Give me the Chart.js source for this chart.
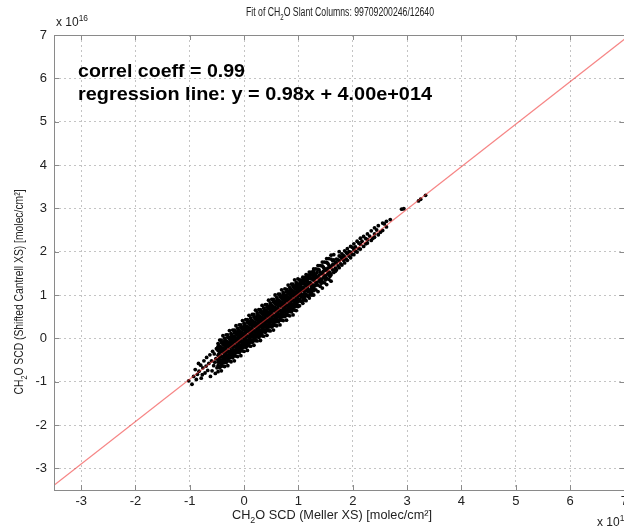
<!DOCTYPE html>
<html>
<head>
<meta charset="utf-8">
<script src="https://cdn.jsdelivr.net/npm/chart.js@4.4.0/dist/chart.umd.min.js"></script>
<style>
  html, body { margin: 0; padding: 0; background: #fff; }
  #wrap { width: 624px; height: 530px; overflow: hidden; position: relative; }
</style>
</head>
<body>
<div id="wrap"><canvas id="fit-chart" width="632" height="530"></canvas></div>
<script>
'use strict';

// ─── DATA (units of 1e16 molec/cm²) ──────────────────────────────────────────
// each row: [Meller SCD, Cantrell SCD values at that x...]

const tailLow = [
  [-1.02, -0.98], [-0.96, -1.06], [-0.93, -0.88], [-0.90, -0.72], [-0.88, -0.95],
  [-0.86, -0.83], [-0.84, -0.58], [-0.83, -0.76], [-0.80, -0.62], [-0.79, -0.92],
  [-0.77, -0.84], [-0.76, -0.68], [-0.74, -0.52], [-0.72, -0.80], [-0.70, -0.64],
  [-0.69, -0.44], [-0.67, -0.74], [-0.65, -0.58], [-0.63, -0.38], [-0.62, -0.88],
  [-0.60, -0.52], [-0.59, -0.75], [-0.58, -0.30], [-0.56, -0.63], [-0.55, -0.36],
  [-0.54, -0.55], [-0.53, -0.81], [-0.52, -0.47], [-0.51, -0.24], [-0.50, -0.68],
];

const coreLow = [
  [-0.48, -0.12, -0.50, -0.28, -0.77, -0.39, -0.63, -0.19, -0.55],
  [-0.45, -0.68, -0.31, -0.43, -0.04, -0.56, -0.21, -0.49, -0.38],
  [-0.42, -0.25, -0.75, -0.10, -0.42, -0.30, -0.61, -0.04, -0.51],
  [-0.39, -0.45, -0.13, -0.64, -0.33, 0.06, -0.51, -0.23, -0.56],
  [-0.36, 0.00, -0.38, -0.16, -0.65, -0.27, -0.51, -0.07, -0.43],
  [-0.33, -0.56, -0.19, -0.31, 0.08, -0.44, -0.09, -0.37, -0.26],
  [-0.30, -0.13, -0.63, 0.02, -0.30, -0.18, -0.49, 0.08, -0.39],
  [-0.27, -0.33, -0.01, -0.52, -0.21, 0.18, -0.39, -0.11, -0.44],
  [-0.24, 0.11, -0.27, -0.05, -0.54, -0.16, -0.40, 0.04, -0.32],
  [-0.21, -0.45, -0.08, -0.20, 0.19, -0.33, 0.02, -0.26, -0.15],
  [-0.18, -0.02, -0.52, 0.13, -0.19, -0.07, -0.38, 0.19, -0.28],
  [-0.15, -0.22, 0.10, -0.41, -0.10, 0.29, -0.28, 0.00, -0.33],
  [-0.12, 0.23, -0.15, 0.07, -0.42, -0.04, -0.28, 0.16, -0.20],
  [-0.09, -0.33, 0.04, -0.08, 0.31, -0.21, 0.14, -0.14, -0.03],
  [-0.06, 0.10, -0.40, 0.25, -0.07, 0.05, -0.26, 0.31, -0.16],
  [-0.03, -0.10, 0.22, -0.29, 0.02, 0.41, -0.16, 0.12, -0.21],
  [0.00, 0.35, -0.03, 0.19, -0.30, 0.08, -0.16, 0.28, -0.08],
  [0.03, -0.21, 0.16, 0.04, 0.43, -0.09, 0.26, -0.02, 0.09],
  [0.06, 0.22, -0.28, 0.37, 0.05, 0.17, -0.14, 0.43, -0.04],
  [0.09, 0.02, 0.34, -0.17, 0.14, 0.53, -0.04, 0.24, -0.09],
  [0.12, 0.47, 0.09, 0.31, -0.18, 0.20, -0.04, 0.40, 0.04],
  [0.15, -0.09, 0.28, 0.16, 0.55, 0.03, 0.38, 0.10, 0.21],
  [0.18, 0.34, -0.16, 0.49, 0.17, 0.29, -0.02, 0.55, 0.08],
  [0.21, 0.14, 0.46, -0.05, 0.26, 0.65, 0.08, 0.36, 0.03],
  [0.24, 0.59, 0.21, 0.43, -0.06, 0.32, 0.08, 0.52, 0.16],
  [0.27, 0.02, 0.39, 0.27, 0.66, 0.14, 0.49, 0.21, 0.32],
];

const coreMid = [
  [0.30, 0.45, -0.05, 0.60, 0.28, 0.40, 0.09, 0.66, 0.19],
  [0.33, 0.25, 0.57, 0.06, 0.37, 0.76, 0.19, 0.47, 0.14],
  [0.36, 0.70, 0.32, 0.54, 0.05, 0.43, 0.19, 0.63, 0.27],
  [0.39, 0.14, 0.51, 0.39, 0.78, 0.26, 0.61, 0.33, 0.44],
  [0.42, 0.57, 0.07, 0.72, 0.40, 0.52, 0.21, 0.78, 0.31],
  [0.45, 0.37, 0.69, 0.18, 0.49, 0.88, 0.31, 0.59, 0.26],
  [0.48, 0.82, 0.44, 0.66, 0.17, 0.55, 0.31, 0.75, 0.39],
  [0.51, 0.26, 0.63, 0.51, 0.90, 0.38, 0.73, 0.45, 0.56],
  [0.54, 0.69, 0.19, 0.84, 0.52, 0.64, 0.33, 0.90, 0.43],
  [0.57, 0.49, 0.81, 0.30, 0.61, 1.00, 0.43, 0.71, 0.38],
  [0.60, 0.94, 0.56, 0.78, 0.29, 0.67, 0.43, 0.87, 0.51],
  [0.63, 0.38, 0.75, 0.63, 1.02, 0.50, 0.85, 0.57, 0.68],
  [0.66, 0.81, 0.31, 0.96, 0.64, 0.76, 0.45, 1.02, 0.55],
  [0.69, 0.61, 0.93, 0.42, 0.73, 1.12, 0.55, 0.83, 0.50],
  [0.72, 1.06, 0.68, 0.90, 0.41, 0.79, 0.55, 0.99, 0.63],
  [0.75, 0.50, 0.87, 0.75, 1.14, 0.62, 0.97, 0.69, 0.80],
  [0.78, 0.92, 0.42, 1.07, 0.75, 0.87, 0.56, 1.13, 0.66],
  [0.81, 0.72, 1.04, 0.53, 0.84, 1.23, 0.66, 0.94, 0.61],
  [0.84, 1.17, 0.79, 1.01, 0.52, 0.90, 0.66, 1.10, 0.74],
  [0.87, 0.61, 0.98, 0.86, 1.25, 0.73, 1.08, 0.80, 0.91],
  [0.90, 1.04, 0.54, 1.19, 0.87, 0.99, 0.68, 1.25, 0.78],
  [0.93, 0.84, 1.16, 0.65, 0.96, 1.35, 0.78, 1.06, 0.73],
  [0.96, 1.29, 0.91, 1.13, 0.64, 1.02, 0.78, 1.22, 0.86],
  [0.99, 0.73, 1.10, 0.98, 1.37, 0.85, 1.20, 0.92, 1.03],
];

// the solid black centre of the cloud
const coreFill = [
  [-0.465, -0.25, -0.53, -0.36, -0.64, -0.17],
  [-0.435, -0.54, -0.19, -0.40, -0.28, -0.65],
  [-0.405, -0.27, -0.55, -0.10, -0.42, -0.22],
  [-0.375, -0.56, -0.30, -0.15, -0.46, -0.25],
  [-0.345, -0.13, -0.41, -0.24, -0.52, -0.05],
  [-0.315, -0.42, -0.07, -0.28, -0.16, -0.53],
  [-0.285, -0.15, -0.43, 0.02, -0.30, -0.10],
  [-0.255, -0.44, -0.18, -0.03, -0.34, -0.13],
  [-0.225, -0.01, -0.29, -0.12, -0.40, 0.07],
  [-0.195, -0.30, 0.05, -0.16, -0.04, -0.41],
  [-0.165, -0.03, -0.31, 0.14, -0.18, 0.02],
  [-0.135, -0.32, -0.06, 0.09, -0.22, -0.01],
  [-0.105, 0.11, -0.17, 0.00, -0.28, 0.19],
  [-0.075, -0.18, 0.17, -0.04, 0.08, -0.29],
  [-0.045, 0.09, -0.19, 0.26, -0.06, 0.14],
  [-0.015, -0.20, 0.06, 0.21, -0.10, 0.11],
  [0.015, 0.22, -0.06, 0.11, -0.17, 0.30],
  [0.045, -0.07, 0.28, 0.07, 0.19, -0.18],
  [0.075, 0.20, -0.08, 0.37, 0.05, 0.25],
  [0.105, -0.09, 0.17, 0.32, 0.01, 0.22],
  [0.135, 0.34, 0.06, 0.23, -0.05, 0.42],
  [0.165, 0.05, 0.40, 0.19, 0.31, -0.06],
  [0.195, 0.32, 0.04, 0.49, 0.17, 0.37],
  [0.225, 0.03, 0.29, 0.44, 0.13, 0.34],
  [0.255, 0.46, 0.18, 0.35, 0.07, 0.54],
  [0.285, 0.17, 0.52, 0.31, 0.43, 0.06],
  [0.315, 0.44, 0.16, 0.61, 0.29, 0.49],
  [0.345, 0.15, 0.41, 0.56, 0.25, 0.46],
  [0.375, 0.58, 0.30, 0.47, 0.19, 0.66],
  [0.405, 0.29, 0.64, 0.43, 0.55, 0.18],
  [0.435, 0.56, 0.28, 0.73, 0.41, 0.61],
  [0.465, 0.27, 0.53, 0.68, 0.37, 0.58],
  [0.495, 0.70, 0.42, 0.59, 0.31, 0.78],
  [0.525, 0.40, 0.75, 0.54, 0.66, 0.29],
  [0.555, 0.67, 0.39, 0.84, 0.52, 0.72],
  [0.585, 0.38, 0.64, 0.79, 0.48, 0.69],
  [0.615, 0.81, 0.53, 0.70, 0.42, 0.89],
  [0.645, 0.52, 0.87, 0.66, 0.78, 0.41],
  [0.675, 0.79, 0.51, 0.96, 0.64, 0.84],
  [0.705, 0.50, 0.76, 0.91, 0.60, 0.81],
  [0.735, 0.93, 0.65, 0.82, 0.54, 1.01],
  [0.765, 0.64, 0.99, 0.78, 0.90, 0.53],
  [0.795, 0.91, 0.63, 1.08, 0.76, 0.96],
  [0.825, 0.62, 0.88, 1.03, 0.72, 0.93],
  [0.855, 1.05, 0.77, 0.94, 0.66, 1.13],
  [0.885, 0.76, 1.11, 0.90, 1.02, 0.65],
  [0.915, 1.03, 0.75, 1.20, 0.88, 1.08],
  [0.945, 0.74, 1.00, 1.15, 0.84, 1.05],
  [0.975, 1.17, 0.89, 1.06, 0.78, 1.25],
  [1.005, 0.87, 1.22, 1.01, 1.13, 0.76],
  [1.035, 1.14, 0.86, 1.31, 0.99, 1.19],
  [1.065, 0.85, 1.11, 1.26, 0.95, 1.16],
  [1.095, 1.28, 1.00, 1.17, 0.89, 1.36],
  [1.125, 0.99, 1.34, 1.13, 1.25, 0.88],
  [1.155, 1.26, 0.98, 1.43, 1.11, 1.31],
  [1.185, 0.97, 1.23, 1.38, 1.07, 1.28],
  [1.215, 1.40, 1.12, 1.29, 1.01, 1.48],
  [1.245, 1.11, 1.46, 1.25, 1.37, 1.00],
  [1.275, 1.38, 1.10, 1.55, 1.23, 1.43],
];

const coreHigh = [
  [1.02, 1.26, 0.90, 1.09, 0.75, 1.35],
  [1.05, 0.86, 1.19, 1.03, 1.34, 0.97],
  [1.08, 1.32, 0.96, 1.15, 0.81, 1.41],
  [1.11, 0.92, 1.25, 1.09, 1.40, 1.03],
  [1.14, 1.38, 1.02, 1.21, 0.87, 1.47],
  [1.17, 0.98, 1.31, 1.15, 1.46, 1.09],
  [1.20, 1.44, 1.08, 1.27, 0.93, 1.53],
  [1.24, 1.05, 1.38, 1.22, 1.53, 1.16],
  [1.28, 1.51, 1.15, 1.34, 1.00, 1.60],
  [1.32, 1.12, 1.45, 1.29, 1.60, 1.23],
  [1.36, 1.59, 1.23, 1.42, 1.08, 1.68],
  [1.40, 1.20, 1.53, 1.37, 1.68, 1.31],
  [1.44, 1.67, 1.31, 1.50, 1.16, 1.76],
  [1.48, 1.28, 1.61, 1.45, 1.76, 1.39],
  [1.52, 1.75, 1.39, 1.58, 1.24, 1.84],
  [1.56, 1.36, 1.69, 1.53, 1.84, 1.47],
  [1.60, 1.83, 1.47, 1.66, 1.32, 1.92],
];

const bandUpper = [
  [1.65, 1.81, 1.52, 1.70, 1.93],
  [1.70, 1.58, 1.83, 1.74],
  [1.75, 1.90, 1.63, 1.79, 2.00],
  [1.80, 1.69, 1.95, 1.84],
  [1.85, 2.02, 1.74, 1.88],
  [1.90, 1.80, 2.07, 1.95],
  [1.96, 2.12, 1.86, 1.99],
  [2.02, 1.93, 2.18, 2.05],
  [2.08, 2.24, 1.99],
  [2.14, 2.06, 2.31, 2.17],
  [2.20, 2.35, 2.12],
  [2.27, 2.20, 2.41, 2.28],
  [2.34, 2.48, 2.26],
  [2.40, 2.33, 2.55, 2.41],
  [2.47, 2.60, 2.39],
  [2.55, 2.49, 2.66],
  [2.62, 2.70, 2.57],
  [2.69, 2.74],
];

// scattered points between the rows of the upper band
const bandFill = [
  [1.30, 1.38, 1.21, 1.47],
  [1.34, 1.29, 1.52, 1.40],
  [1.38, 1.46, 1.33, 1.58],
  [1.42, 1.36, 1.49, 1.27],
  [1.46, 1.55, 1.40, 1.64],
  [1.50, 1.44, 1.57, 1.35],
  [1.54, 1.62, 1.49, 1.73],
  [1.58, 1.52, 1.64, 1.43],
  [1.63, 1.70, 1.58, 1.79],
  [1.68, 1.62, 1.75, 1.55],
  [1.73, 1.81, 1.67],
  [1.78, 1.72, 1.88],
  [1.83, 1.91, 1.80],
  [1.88, 1.83, 1.98],
  [1.93, 2.00, 1.90],
  [1.99, 1.94, 2.10],
  [2.05, 2.11, 2.01],
  [2.11, 2.07, 2.20],
  [2.17, 2.24],
  [2.24, 2.18, 2.30],
  [2.31, 2.36],
  [2.37, 2.31],
  [2.44, 2.50],
  [2.51, 2.45],
  [2.58, 2.64],
];

const farPoints = [
  [2.90, 2.98], [2.94, 2.99], [3.21, 3.17], [3.25, 3.21], [3.34, 3.30],
];

// regression line as printed on the chart
const fitSlope     = 0.98;
const fitIntercept = 0.04;          // 4.00e+014 in units of 1e16
const fitX         = [-3.5, 7];

const tickValues = [-3, -2, -1, 0, 1, 2, 3, 4, 5, 6, 7];

// ─── BUILD ───────────────────────────────────────────────────────────────────

const rowsToPoints = rows => rows.flatMap(([x, ...ys]) => ys.map(y => ({ x, y })));

const scatterData = [
  ...rowsToPoints(tailLow),
  ...rowsToPoints(coreLow),
  ...rowsToPoints(coreMid),
  ...rowsToPoints(coreFill),
  ...rowsToPoints(coreHigh),
  ...rowsToPoints(bandUpper),
  ...rowsToPoints(bandFill),
  ...rowsToPoints(farPoints),
];

const fitData = fitX.map(x => ({ x, y: fitSlope * x + fitIntercept }));

const FONT = '"Liberation Sans", Arial, Helvetica, sans-serif';

// draws text with subscript/superscript parts, optionally squeezed to a width
function drawRich(ctx, parts, x, y, size, opts = {}) {
  const { align = 'left', width = null, bold = false } = opts;
  const weight = bold ? 'bold ' : '';
  const segs = parts.map(p => {
    const s = p.sub || p.sup ? size * 0.7 : size;
    ctx.font = `${weight}${s}px ${FONT}`;
    return { ...p, s, w: ctx.measureText(p.t).width };
  });
  const total = segs.reduce((a, s) => a + s.w, 0);
  const k = width ? width / total : 1;
  const realW = total * k;
  let cx = align === 'center' ? x - realW / 2 : align === 'right' ? x - realW : x;
  ctx.save();
  ctx.textBaseline = 'alphabetic';
  ctx.textAlign = 'left';
  segs.forEach(s => {
    ctx.font = `${weight}${s.s}px ${FONT}`;
    const dy = s.sub ? size * 0.3 : s.sup ? -size * 0.45 : 0;
    ctx.save();
    ctx.translate(cx, y + dy);
    ctx.scale(k, 1);
    ctx.fillText(s.t, 0, 0);
    ctx.restore();
    cx += s.w * k;
  });
  ctx.restore();
}

const matlabDecor = {
  id: 'matlabDecor',
  afterDraw(chart) {
    const { ctx, chartArea: a, scales } = chart;
    ctx.save();

    // axes box + inward ticks
    ctx.strokeStyle = '#8a8a8a';
    ctx.lineWidth = 1;
    ctx.strokeRect(Math.round(a.left) + 0.5, Math.round(a.top) + 0.5,
                   Math.round(a.right - a.left), Math.round(a.bottom - a.top));
    ctx.beginPath();
    tickValues.forEach(v => {
      const px = Math.round(scales.x.getPixelForValue(v)) + 0.5;
      ctx.moveTo(px, a.bottom); ctx.lineTo(px, a.bottom - 5);
      ctx.moveTo(px, a.top);    ctx.lineTo(px, a.top + 5);
      const py = Math.round(scales.y.getPixelForValue(v)) + 0.5;
      ctx.moveTo(a.left, py);   ctx.lineTo(a.left + 5, py);
      ctx.moveTo(a.right, py);  ctx.lineTo(a.right - 5, py);
    });
    ctx.stroke();

    ctx.fillStyle = '#222';

    // title
    drawRich(ctx, [{ t: 'Fit of CH' }, { t: '2', sub: true }, { t: 'O Slant Columns: 99709200246/12640' }],
             340, 16, 12, { align: 'center', width: 188 });

    // exponent labels
    drawRich(ctx, [{ t: 'x 10' }, { t: '16', sup: true }], 56, 26, 12);
    drawRich(ctx, [{ t: 'x 10' }, { t: '16', sup: true }], 597, 526, 12);

    // x axis label
    drawRich(ctx, [{ t: 'CH' }, { t: '2', sub: true }, { t: 'O SCD (Meller XS) [molec/cm\u00b2]' }],
             332, 519, 12, { align: 'center', width: 200 });

    // y axis label
    ctx.save();
    ctx.translate(23, 292);
    ctx.rotate(-Math.PI / 2);
    drawRich(ctx, [{ t: 'CH' }, { t: '2', sub: true }, { t: 'O SCD (Shifted Cantrell XS) [molec/cm\u00b2]' }],
             0, 0, 12, { align: 'center', width: 205 });
    ctx.restore();

    // annotation
    ctx.fillStyle = '#000';
    drawRich(ctx, [{ t: 'correl coeff = 0.99' }], 78, 77, 18, { bold: true, width: 167 });
    drawRich(ctx, [{ t: 'regression line: y = 0.98x + 4.00e+014' }], 78, 100, 18, { bold: true, width: 354 });

    ctx.restore();
  },
};

// ─── CHART ───────────────────────────────────────────────────────────────────

new Chart(document.getElementById('fit-chart'), {
  type: 'scatter',
  data: {
    datasets: [
      {
        type: 'line',
        label: 'regression',
        data: fitData,
        borderColor: 'rgba(240,50,50,0.6)',
        borderWidth: 1.2,
        pointRadius: 0,
        fill: false,
        tension: 0,
        order: 0,
      },
      {
        label: 'SCD',
        data: scatterData,
        backgroundColor: '#000',
        borderWidth: 0,
        pointRadius: 1.9,
        order: 1,
      },
    ],
  },
  options: {
    responsive: false,
    animation: false,
    events: [],
    layout: { padding: { left: 0, right: 5.5, top: 35, bottom: 0 } },
    plugins: {
      legend: { display: false },
      tooltip: { enabled: false },
    },
    scales: {
      x: {
        type: 'linear',
        min: -3.5,
        max: 7,
        afterFit: s => { s.height = 40; },
        grid:   { color: '#c4c4c4', drawTicks: false },
        border: { display: false, dash: [2, 3] },
        ticks:  {
          stepSize: 1, includeBounds: false, padding: 4,
          color: '#222', font: { family: FONT, size: 13 },
          maxRotation: 0,
        },
      },
      y: {
        type: 'linear',
        min: -3.5,
        max: 7,
        afterFit: s => { s.width = 54; },
        grid:   { color: '#c4c4c4', drawTicks: false },
        border: { display: false, dash: [2, 3] },
        ticks:  {
          stepSize: 1, includeBounds: false, padding: 7,
          color: '#222', font: { family: FONT, size: 13 },
        },
      },
    },
  },
  plugins: [matlabDecor],
});
</script>
</body>
</html>
